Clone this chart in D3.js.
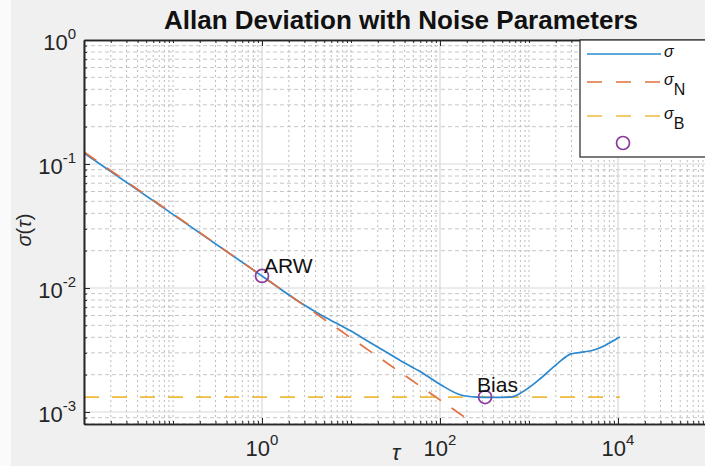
<!DOCTYPE html>
<html>
<head>
<meta charset="utf-8">
<script src="https://cdn.jsdelivr.net/npm/d3@7.9.0/dist/d3.min.js"></script>
<style>
  html, body { margin: 0; padding: 0; background: #f0f0f0; }
  svg { display: block; font-family: "Liberation Sans", Arial, sans-serif; }
</style>
</head>
<body>
<svg id="chart" width="705" height="466"></svg>
<script>
// Allan deviation
const tau = [0.01, 0.1, 1, 2.74, 4.6, 6.8, 10, 14.7, 21.7, 36.5, 61, 103, 172, 254, 374, 628, 879, 1365, 2117, 2966, 4150, 5370, 6960, 8340, 10520];
const avar = [0.1227, 0.0392, 0.0125, 0.00757, 0.00606, 0.00522, 0.0045, 0.00381, 0.00322, 0.00258, 0.0021, 0.00165, 0.00137, 0.00132, 0.00131, 0.00132, 0.00148, 0.00188, 0.00248, 0.00294, 0.00305, 0.00316, 0.0034, 0.00367, 0.00403];

// fitted noise lines
const tauN = [0.01, 400];
const sigmaN = [0.125, 0.000625];
const tauB = [0.01, 10520];
const sigmaB = [0.00132, 0.00132];

// marked points
const markTau = [1, 321];
const markSigma = [0.0125, 0.00132];
const markLabels = ['ARW', 'Bias'];

const xTickExp = [0, 2, 4];
const yTickExp = [0, -1, -2, -3];
const legendLabels = [['σ', ''], ['σ', 'N'], ['σ', 'B'], ['', '']];

const svg = d3.select('#chart');
const pL = 84, pT = 40, pB = 424, pR = 707;

const x = d3.scaleLog().domain([0.01, 1e5]).range([pL, pR]);
const y = d3.scaleLog().domain([0.0008, 1]).range([pB, pT]);

const blue = '#2a88cf', orange = '#e0703f', yellow = '#eebb3c', purple = '#8a3b9e';

// light strip at far left of the capture
svg.append('rect').attr('x', 0).attr('y', 0).attr('width', 11).attr('height', 466).attr('fill', '#fafafa');

svg.append('rect')
  .attr('x', pL).attr('y', pT)
  .attr('width', pR - pL).attr('height', pB - pT)
  .attr('fill', '#fff');

// minor / major tick values
let xMinor = [];
for (let e = -2; e < 5; e++) {
  for (let m = 1; m < 10; m++) {
    if (m === 1 && e % 2 === 0) continue;
    xMinor.push(m * Math.pow(10, e));
  }
}
let xMajor = [1e-2, 1, 1e2, 1e4];
let yMinor = [];
for (let e = -4; e < 0; e++) {
  for (let m = 2; m < 10; m++) {
    let v = m * Math.pow(10, e);
    if (v >= 0.0008) yMinor.push(v);
  }
}
let yMajor = yTickExp.map((e) => Math.pow(10, e));

const grid = svg.append('g');
grid.selectAll('.gx')
  .data(xMinor)
  .join('line')
  .attr('x1', (d) => x(d)).attr('x2', (d) => x(d))
  .attr('y1', pT).attr('y2', pB)
  .attr('stroke', '#b4b4b4').attr('stroke-width', 0.9)
  .attr('stroke-dasharray', '2,3');
grid.selectAll('.gy')
  .data(yMinor)
  .join('line')
  .attr('x1', pL).attr('x2', pR)
  .attr('y1', (d) => y(d)).attr('y2', (d) => y(d))
  .attr('stroke', '#c0c0c0').attr('stroke-width', 0.9)
  .attr('stroke-dasharray', '4,3');
grid.selectAll('.gX')
  .data(xMajor)
  .join('line')
  .attr('x1', (d) => x(d)).attr('x2', (d) => x(d))
  .attr('y1', pT).attr('y2', pB)
  .attr('stroke', '#d8d8d8').attr('stroke-width', 1.2);
grid.selectAll('.gY')
  .data(yMajor)
  .join('line')
  .attr('x1', pL).attr('x2', pR)
  .attr('y1', (d) => y(d)).attr('y2', (d) => y(d))
  .attr('stroke', '#d8d8d8').attr('stroke-width', 1.2);

// clip for data
svg.append('clipPath').attr('id', 'clip')
  .append('rect').attr('x', pL).attr('y', pT)
  .attr('width', pR - pL).attr('height', pB - pT);

const plot = svg.append('g').attr('clip-path', 'url(#clip)');
const line = d3.line().x((d) => x(d[0])).y((d) => y(d[1]));

plot.append('path')
  .attr('d', line(d3.zip(tauB, sigmaB)))
  .attr('fill', 'none').attr('stroke', yellow).attr('stroke-width', 1.7)
  .attr('stroke-dasharray', '15,13');

plot.append('path')
  .attr('d', d3.line().x((d) => x(d[0])).y((d) => y(d[1])).curve(d3.curveMonotoneX)(d3.zip(tau, avar)))
  .attr('fill', 'none').attr('stroke', blue).attr('stroke-width', 1.7);

plot.append('path')
  .attr('d', line(d3.zip(tauN, sigmaN)))
  .attr('fill', 'none').attr('stroke', orange).attr('stroke-width', 1.7)
  .attr('stroke-dasharray', '15,13');

plot.selectAll('.mark')
  .data(d3.zip(markTau, markSigma))
  .join('circle')
  .attr('cx', (d) => x(d[0])).attr('cy', (d) => y(d[1]))
  .attr('r', 6.5)
  .attr('fill', 'none').attr('stroke', purple).attr('stroke-width', 1.7);

svg.selectAll('.mlabel')
  .data(markLabels)
  .join('text')
  .attr('x', (d, i) => x(markTau[i]) - (i === 0 ? -2 : 8))
  .attr('y', (d, i) => y(markSigma[i]) - (i === 0 ? 3 : 5))
  .attr('font-size', 21).attr('fill', '#111')
  .text((d) => d);

// axes: ticks inside on all four sides
const tickColor = '#262626';
function drawTicks(g) {
  g.selectAll('path').attr('stroke', tickColor).attr('stroke-width', 1.6);
  g.selectAll('line').attr('stroke', tickColor).attr('stroke-width', 1);
}
svg.append('g').attr('transform', `translate(0,${pB})`)
  .call(d3.axisBottom(x).tickValues(xMinor).tickSize(-3).tickFormat('').tickSizeOuter(0)).call(drawTicks);
svg.append('g').attr('transform', `translate(0,${pB})`)
  .call(d3.axisBottom(x).tickValues(xMajor).tickSize(-6).tickFormat('').tickSizeOuter(0)).call(drawTicks);
svg.append('g').attr('transform', `translate(0,${pT})`)
  .call(d3.axisTop(x).tickValues(xMinor).tickSize(-3).tickFormat('').tickSizeOuter(0)).call(drawTicks);
svg.append('g').attr('transform', `translate(0,${pT})`)
  .call(d3.axisTop(x).tickValues(xMajor).tickSize(-6).tickFormat('').tickSizeOuter(0)).call(drawTicks);
svg.append('g').attr('transform', `translate(${pL},0)`)
  .call(d3.axisLeft(y).tickValues(yMinor).tickSize(-3).tickFormat('').tickSizeOuter(0)).call(drawTicks);
svg.append('g').attr('transform', `translate(${pL},0)`)
  .call(d3.axisLeft(y).tickValues(yMajor).tickSize(-6).tickFormat('').tickSizeOuter(0)).call(drawTicks);

// tick labels with superscripts
const xl = svg.selectAll('.xl')
  .data(xTickExp)
  .join('text')
  .attr('x', (d) => x(Math.pow(10, d)))
  .attr('y', 456)
  .attr('text-anchor', 'middle')
  .attr('fill', '#262626');
xl.append('tspan').attr('font-size', 22).text('10');
xl.append('tspan').attr('font-size', 15).attr('dy', -11).text((d) => d);

const yl = svg.selectAll('.yl')
  .data(yTickExp)
  .join('text')
  .attr('x', 76)
  .attr('y', (d) => y(Math.pow(10, d)) + 10)
  .attr('text-anchor', 'end')
  .attr('fill', '#262626');
yl.append('tspan').attr('font-size', 22).text('10');
yl.append('tspan').attr('font-size', 15).attr('dy', -11).text((d) => (d < 0 ? '-' + Math.abs(d) : d));

// axis labels and title
svg.append('text')
  .attr('x', 396).attr('y', 460)
  .attr('text-anchor', 'middle')
  .attr('font-size', 22).attr('font-style', 'italic').attr('fill', '#262626')
  .text('τ');

svg.append('text')
  .attr('transform', 'translate(31,230) rotate(-90)')
  .attr('text-anchor', 'middle')
  .attr('font-size', 20).attr('fill', '#262626')
  .html('<tspan font-style="italic">σ</tspan>(<tspan font-style="italic">τ</tspan>)');

svg.append('text')
  .attr('x', 401).attr('y', 29)
  .attr('text-anchor', 'middle')
  .attr('font-size', 26).attr('font-weight', 'bold').attr('fill', '#111')
  .text('Allan Deviation with Noise Parameters');

// legend
const lg = svg.append('g');
lg.append('rect')
  .attr('x', 580).attr('y', 40).attr('width', 150).attr('height', 117)
  .attr('fill', '#fff').attr('stroke', '#262626').attr('stroke-width', 1.2);

const rowY = [54, 82, 116, 143];
const legendColors = [blue, orange, yellow, purple];
const legendDash = [null, '15,14', '15,14', null];

legendLabels.forEach((lab, i) => {
  if (i < 3) {
    lg.append('line')
      .attr('x1', 587).attr('x2', 661)
      .attr('y1', rowY[i]).attr('y2', rowY[i])
      .attr('stroke', legendColors[i]).attr('stroke-width', 1.7)
      .attr('stroke-dasharray', legendDash[i]);
  } else {
    lg.append('circle')
      .attr('cx', 623).attr('cy', rowY[i]).attr('r', 6.5)
      .attr('fill', 'none').attr('stroke', legendColors[i]).attr('stroke-width', 1.7);
  }
  const t = lg.append('text')
    .attr('x', 664).attr('y', rowY[i] + 3)
    .attr('fill', '#111');
  t.append('tspan').attr('font-size', 16).attr('font-style', 'italic').text(lab[0]);
  if (lab[1]) t.append('tspan').attr('font-size', 16).attr('dy', 10).text(lab[1]);
});
</script>
</body>
</html>
